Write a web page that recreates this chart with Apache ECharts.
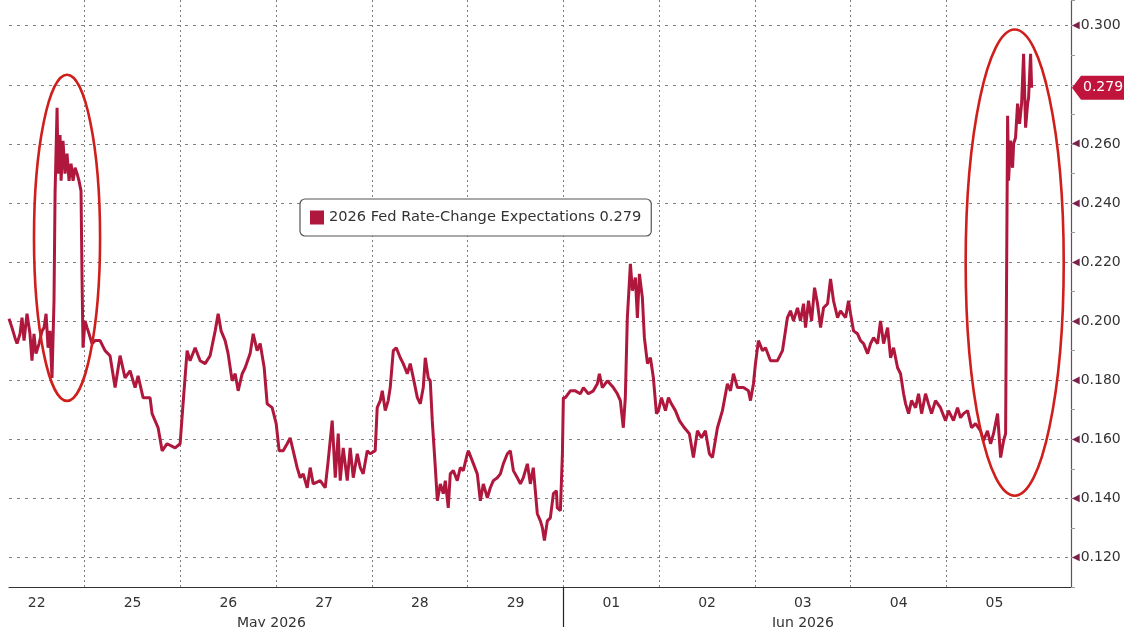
<!DOCTYPE html>
<html>
<head>
<meta charset="utf-8">
<script src="https://cdn.jsdelivr.net/npm/echarts@6/dist/echarts.min.js"></script>
<style>
  html, body { margin: 0; padding: 0; background: #ffffff; }
  #chart { width: 1124px; height: 627px; }
</style>
</head>
<body>
<div id="chart"></div>
<script>
// ---- Data (x = position in trading days; day k spans [k, k+1]) ----
const seriesName = '2026 Fed Rate-Change Expectations';
const dayLabels = ['22', '25', '26', '27', '28', '29', '01', '02', '03', '04', '05'];
const monthLabels = ['May 2026', 'Jun 2026'];
const monthLabelPos = [2.95, 8.5];
const monthBoundaries = [6];
const dayBoundaries = [1, 2, 3, 4, 5, 6, 7, 8, 9, 10];
const yGridValues = [0.12, 0.14, 0.16, 0.18, 0.20, 0.22, 0.24, 0.26, 0.28, 0.30];

const may22 = [[0.210,0.2008],[0.241,0.1978],[0.272,0.1944],[0.294,0.1924],[0.325,0.1957],[0.346,0.2012],[0.367,0.1934],[0.398,0.2025],[0.429,0.1957],[0.450,0.1866],[0.471,0.1957],[0.492,0.1890],[0.524,0.1924],[0.555,0.1967],[0.576,0.1978],[0.597,0.2025],[0.618,0.1910],[0.638,0.1967],[0.659,0.1808],[0.680,0.2069],[0.691,0.2431],[0.712,0.2722],[0.722,0.2499],[0.743,0.2630],[0.754,0.2475],[0.774,0.2610],[0.795,0.2499],[0.816,0.2567],[0.837,0.2475],[0.858,0.2533],[0.879,0.2475],[0.900,0.2519],[0.921,0.2499],[0.941,0.2475],[0.962,0.2441],[0.973,0.2137],[0.983,0.1910]];
const may25 = [[1.004,0.2001],[1.025,0.1978],[1.046,0.1957],[1.077,0.1924],[1.109,0.1934],[1.161,0.1934],[1.213,0.1900],[1.265,0.1883],[1.318,0.1775],[1.370,0.1883],[1.422,0.1808],[1.474,0.1832],[1.527,0.1775],[1.558,0.1815],[1.610,0.1741],[1.683,0.1741],[1.704,0.1687],[1.767,0.1639],[1.809,0.1561],[1.861,0.1585],[1.945,0.1571],[1.997,0.1585]];
const may26 = [[2.020,0.1687],[2.070,0.1900],[2.101,0.1866],[2.154,0.1910],[2.206,0.1866],[2.258,0.1856],[2.310,0.1883],[2.363,0.1967],[2.394,0.2025],[2.425,0.1967],[2.467,0.1934],[2.498,0.1890],[2.540,0.1798],[2.572,0.1822],[2.603,0.1764],[2.645,0.1822],[2.676,0.1842],[2.728,0.1890],[2.760,0.1957],[2.801,0.1900],[2.833,0.1924],[2.875,0.1842],[2.906,0.1720],[2.958,0.1707],[3.000,0.1653]];
const may27 = [[3.031,0.1561],[3.073,0.1561],[3.115,0.1585],[3.146,0.1605],[3.178,0.1561],[3.219,0.1504],[3.251,0.1470],[3.282,0.1483],[3.324,0.1436],[3.355,0.1504],[3.387,0.1449],[3.460,0.1460],[3.512,0.1436],[3.543,0.1527],[3.585,0.1663],[3.617,0.1470],[3.648,0.1619],[3.669,0.1460],[3.700,0.1571],[3.742,0.1460],[3.773,0.1571],[3.805,0.1470],[3.847,0.1551],[3.878,0.1504],[3.909,0.1483],[3.951,0.1561],[3.982,0.1551]];
const may28 = [[4.034,0.1561],[4.055,0.1707],[4.087,0.1731],[4.108,0.1764],[4.139,0.1697],[4.170,0.1731],[4.191,0.1775],[4.223,0.1900],[4.254,0.1910],[4.296,0.1876],[4.327,0.1856],[4.369,0.1822],[4.400,0.1856],[4.432,0.1808],[4.474,0.1741],[4.505,0.1720],[4.536,0.1775],[4.557,0.1876],[4.588,0.1808],[4.609,0.1798],[4.630,0.1663],[4.662,0.1504],[4.683,0.1392],[4.714,0.1449],[4.745,0.1416],[4.766,0.1460],[4.797,0.1368],[4.818,0.1483],[4.850,0.1494],[4.891,0.1460],[4.923,0.1504],[4.954,0.1494],[4.996,0.1551]];
const may29 = [[5.007,0.1561],[5.048,0.1527],[5.100,0.1483],[5.132,0.1392],[5.163,0.1449],[5.205,0.1402],[5.236,0.1436],[5.268,0.1460],[5.309,0.1470],[5.341,0.1483],[5.372,0.1517],[5.414,0.1551],[5.445,0.1561],[5.477,0.1494],[5.518,0.1470],[5.550,0.1449],[5.581,0.1470],[5.623,0.1517],[5.654,0.1449],[5.685,0.1504],[5.727,0.1348],[5.759,0.1324],[5.780,0.1301],[5.801,0.1257],[5.832,0.1324],[5.863,0.1334],[5.895,0.1416],[5.926,0.1426],[5.936,0.1368],[5.968,0.1358],[5.989,0.1551]];
const jun01 = [[5.999,0.1741],[6.020,0.1741],[6.072,0.1764],[6.124,0.1764],[6.176,0.1754],[6.208,0.1775],[6.260,0.1754],[6.312,0.1764],[6.354,0.1788],[6.375,0.1822],[6.406,0.1775],[6.458,0.1798],[6.521,0.1775],[6.563,0.1754],[6.594,0.1731],[6.625,0.1639],[6.646,0.1741],[6.667,0.2011],[6.699,0.2194],[6.720,0.2103],[6.751,0.2147],[6.772,0.2011],[6.793,0.2160],[6.824,0.2079],[6.845,0.1944],[6.877,0.1856],[6.908,0.1876],[6.939,0.1808],[6.971,0.1687],[6.992,0.1697]];
const jun02 = [[7.023,0.1741],[7.065,0.1697],[7.096,0.1741],[7.127,0.1720],[7.169,0.1697],[7.211,0.1663],[7.263,0.1639],[7.315,0.1619],[7.357,0.1538],[7.399,0.1629],[7.441,0.1605],[7.482,0.1629],[7.524,0.1551],[7.556,0.1538],[7.608,0.1639],[7.660,0.1697],[7.712,0.1788],[7.744,0.1764],[7.775,0.1822],[7.817,0.1775],[7.880,0.1775],[7.932,0.1764],[7.953,0.1731],[7.984,0.1788]];
const jun03 = [[8.005,0.1856],[8.036,0.1934],[8.078,0.1900],[8.110,0.1910],[8.162,0.1866],[8.235,0.1866],[8.287,0.1900],[8.339,0.2012],[8.371,0.2035],[8.402,0.2001],[8.444,0.2045],[8.475,0.2001],[8.507,0.2059],[8.528,0.1978],[8.559,0.2069],[8.591,0.2001],[8.622,0.2113],[8.653,0.2059],[8.685,0.1978],[8.716,0.2045],[8.758,0.2059],[8.789,0.2143],[8.820,0.2069],[8.862,0.2012],[8.893,0.2035],[8.946,0.2012],[8.977,0.2069],[8.998,0.2025]];
const jun04 = [[9.029,0.1967],[9.071,0.1957],[9.102,0.1934],[9.134,0.1924],[9.176,0.1890],[9.207,0.1924],[9.238,0.1944],[9.280,0.1924],[9.311,0.2001],[9.343,0.1924],[9.385,0.1978],[9.416,0.1876],[9.447,0.1910],[9.489,0.1842],[9.520,0.1822],[9.552,0.1754],[9.573,0.1720],[9.604,0.1687],[9.635,0.1731],[9.677,0.1707],[9.708,0.1754],[9.740,0.1687],[9.781,0.1754],[9.812,0.1720],[9.844,0.1687],[9.885,0.1731],[9.937,0.1707],[9.990,0.1663]];
const jun05 = [[10.021,0.1697],[10.073,0.1663],[10.115,0.1707],[10.146,0.1673],[10.178,0.1687],[10.220,0.1697],[10.261,0.1639],[10.303,0.1653],[10.355,0.1629],[10.386,0.1595],[10.428,0.1629],[10.460,0.1585],[10.491,0.1619],[10.533,0.1687],[10.565,0.1538],[10.596,0.1595],[10.617,0.1619],[10.633,0.1619],[10.638,0.2695],[10.648,0.2475],[10.669,0.2611],[10.690,0.2519],[10.701,0.2601],[10.721,0.2621],[10.742,0.2736],[10.763,0.2668],[10.784,0.2736],[10.805,0.2905],[10.826,0.2655],[10.847,0.2736],[10.857,0.2756],[10.878,0.2905],[10.889,0.2790]];

// annotation ellipses (data units: centre x/y, radius in days / in value)
const ellipses = [
  { x: 0.816, y: 0.2282, rx: 0.345, ry: 0.0552 },
  { x: 10.712, y: 0.2198, rx: 0.512, ry: 0.0789 }
];

const allData = [].concat(may22, may25, may26, may27, may28, may29, jun01, jun02, jun03, jun04, jun05);
const lastValue = allData[allData.length - 1][1];

const LINE_COLOR = '#b0173c';
const TAG_COLOR = '#c0143c';
const FONT = 'DejaVu Sans';

const chart = echarts.init(document.getElementById('chart'), null, { renderer: 'canvas' });

const gridMarks = [];
yGridValues.forEach(v => gridMarks.push({ yAxis: v, lineStyle: { type: [3, 5], color: '#808080', width: 1 } }));
dayBoundaries.forEach(v => gridMarks.push({ xAxis: v, lineStyle: { type: [2, 3], color: '#808080', width: 1 } }));

const option = {
  backgroundColor: '#ffffff',
  animation: false,
  grid: { left: 9, right: 53, top: 0, bottom: 40, containLabel: false, outerBoundsMode: 'none' },
  legend: {
    show: true,
    left: 300, top: 199,
    data: [seriesName],
    icon: 'rect', itemWidth: 14, itemHeight: 14, itemGap: 6,
    backgroundColor: '#ffffff', borderColor: '#555555', borderWidth: 1.2, borderRadius: 5,
    padding: [11, 10, 11, 10],
    textStyle: { fontFamily: FONT, fontSize: 14.6, color: '#333333' },
    formatter: name => name + ' ' + lastValue.toFixed(3)
  },
  xAxis: [
    {
      type: 'value', min: 0.21, max: 11.3, position: 'bottom',
      axisLine: { show: true, lineStyle: { color: '#333333', width: 1.2 } },
      axisTick: { show: false },
      splitLine: { show: false },
      axisLabel: {
        show: true, customValues: dayLabels.map((d, i) => i + 0.5),
        formatter: v => dayLabels[Math.floor(v)] || '',
        fontFamily: FONT, fontSize: 14, color: '#333333', margin: 9
      }
    },
    {
      type: 'value', min: 0.21, max: 11.3, position: 'bottom', offset: 0,
      axisLine: { show: false },
      axisTick: { show: true, customValues: monthBoundaries, length: 42, inside: false, lineStyle: { color: '#222222', width: 1.2 } },
      splitLine: { show: false },
      axisLabel: {
        show: true, customValues: monthLabelPos,
        formatter: v => monthLabels[monthLabelPos.indexOf(v)] || '',
        fontFamily: FONT, fontSize: 14, color: '#333333', margin: 29
      }
    }
  ],
  yAxis: {
    type: 'value', position: 'right', min: 0.11, max: 0.3087, interval: 0.01,
    axisLine: { show: true, lineStyle: { color: '#6e4a5c', width: 1.2 } },
    axisTick: { show: true, length: 4, lineStyle: { color: '#9a9a9a' } },
    splitLine: { show: false },
    axisLabel: {
      show: true, margin: 1,
      formatter: v => {
        const k = Math.round(v * 100);
        if (k % 2 !== 0) return '';
        const val = k / 100;
        if (yGridValues.indexOf(val) < 0) return '';
        if (Math.abs(val - lastValue) < 0.006) return '';
        return '{t|◀}{v|' + val.toFixed(3) + '}';
      },
      rich: {
        t: { color: '#7b1f4b', fontSize: 10, fontFamily: FONT, padding: [0, 1, 0, 0] },
        v: { color: '#333333', fontSize: 14, fontFamily: FONT }
      }
    }
  },
  series: [
    {
      name: seriesName,
      type: 'line',
      xAxisIndex: 0, yAxisIndex: 0,
      data: allData,
      showSymbol: false, symbol: 'none',
      lineStyle: { color: LINE_COLOR, width: 3 },
      itemStyle: { color: LINE_COLOR },
      z: 3,
      markLine: { silent: true, symbol: ['none', 'none'], label: { show: false }, data: gridMarks, z: 1, animation: false }
    }
  ]
};

chart.setOption(option);

// current value tag at the right axis + annotation ellipses
const graphics = ellipses.map(e => {
  const c = chart.convertToPixel({ xAxisIndex: 0, yAxisIndex: 0 }, [e.x, e.y]);
  const p = chart.convertToPixel({ xAxisIndex: 0, yAxisIndex: 0 }, [e.x + e.rx, e.y + e.ry]);
  return {
    type: 'ellipse', z: 10, silent: true,
    shape: { cx: c[0], cy: c[1], rx: Math.abs(p[0] - c[0]), ry: Math.abs(p[1] - c[1]) },
    style: { fill: 'none', stroke: '#cf1f1c', lineWidth: 2.6 }
  };
});
const tagPos = chart.convertToPixel({ xAxisIndex: 0, yAxisIndex: 0 }, [11.3, lastValue]);
const tx = tagPos[0] + 1, ty = tagPos[1];
graphics.push({
  type: 'polygon', z: 20, silent: true,
  shape: { points: [[tx, ty], [tx + 9, ty - 12], [1124, ty - 12], [1124, ty + 12], [tx + 9, ty + 12]] },
  style: { fill: TAG_COLOR }
});
graphics.push({
  type: 'text', z: 21, silent: true,
  x: tx + 11, y: ty,
  style: { text: lastValue.toFixed(3), fill: '#ffffff', font: '14px "DejaVu Sans"', verticalAlign: 'middle', align: 'left' }
});
chart.setOption({ graphic: graphics });
</script>
</body>
</html>
